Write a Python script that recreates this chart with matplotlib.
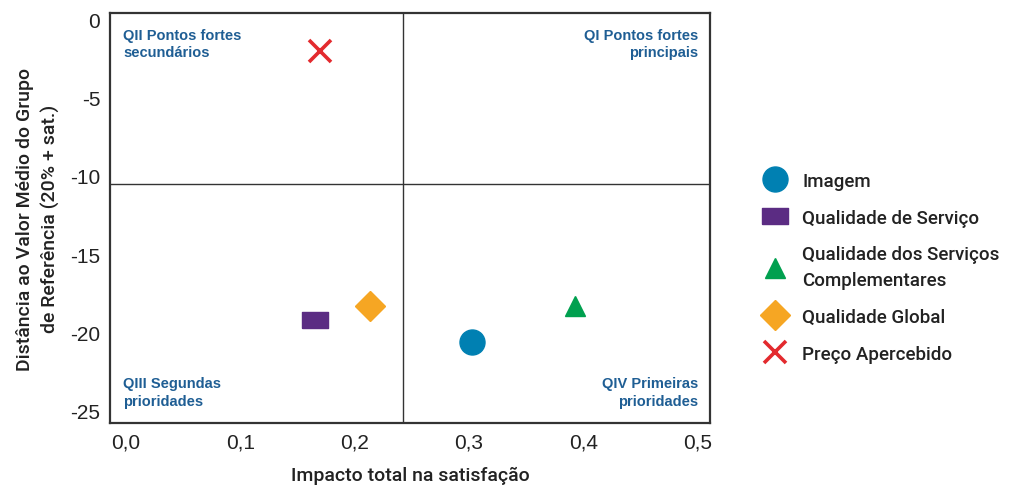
import matplotlib
matplotlib.use('Agg')
import matplotlib.pyplot as plt
from matplotlib.ticker import FuncFormatter

plt.rcParams['font.family'] = ['Liberation Sans', 'DejaVu Sans']

# 各维度：对满意度的总体影响 vs 与参考组均值的距离
series = ['Imagem', 'Qualidade de Serviço', 'Qualidade dos Serviços\nComplementares',
          'Qualidade Global', 'Preço Apercebido']
impacto = [0.303, 0.165, 0.393, 0.213, 0.170]
distancia = [-20.6, -19.2, -18.3, -18.3, -2.0]

# 象限分界线
corte_x = 0.242
corte_y = -10.5

x_ticks = [0.0, 0.1, 0.2, 0.3, 0.4, 0.5]
y_ticks = [0, -5, -10, -15, -20, -25]

quadrantes = ['QII Pontos fortes\nsecundários', 'QI Pontos fortes\nprincipais',
              'QIII Segundas\nprioridades', 'QIV Primeiras\nprioridades']

retangulo = [(-1, -0.58), (1, -0.58), (1, 0.58), (-1, 0.58), (-1, -0.58)]
estilos = [
    dict(marker='o', color='#0080B2', markersize=18),
    dict(marker=retangulo, color='#5B2C83', markersize=19),
    dict(marker='^', color='#00A04F', markersize=15),
    dict(marker='D', color='#F6A623', markersize=15),
    dict(marker='x', color='#E32A2E', markersize=16, markeredgewidth=2.6),
]

fig = plt.figure(figsize=(10.19, 4.89), dpi=100)
ax = fig.add_axes([0.108, 0.133, 0.589, 0.838])

for nome, xv, yv, st in zip(series, impacto, distancia, estilos):
    ax.plot([xv], [yv], linestyle='none', label=nome, **st)

ax.axvline(corte_x, color='#333333', lw=1)
ax.axhline(corte_y, color='#333333', lw=1)

ax.set_xlim(-0.014, 0.511)
ax.set_ylim(-25.8, 0.4)
ax.set_xticks(x_ticks)
ax.set_yticks(y_ticks)
ax.xaxis.set_major_formatter(FuncFormatter(lambda v, p: f'{v:.1f}'.replace('.', ',')))
ax.yaxis.set_major_formatter(FuncFormatter(lambda v, p: f'{v:.0f}'))
ax.tick_params(length=0, labelsize=15, colors='#222222', pad=7)
for s in ax.spines.values():
    s.set_color('#333333')
    s.set_linewidth(1.6)

cor_q = '#1F5E94'
kw = dict(transform=ax.transAxes, fontsize=10.5, fontweight='bold', color=cor_q,
          linespacing=1.35)
ax.text(0.022, 0.965, quadrantes[0], ha='left', va='top', **kw)
ax.text(0.98, 0.965, quadrantes[1], ha='right', va='top', **kw)
ax.text(0.022, 0.115, quadrantes[2], ha='left', va='top', **kw)
ax.text(0.98, 0.115, quadrantes[3], ha='right', va='top', **kw)

rot_kw = dict(fontsize=14, fontweight='medium', color='#222222',
              family=['Roboto', 'DejaVu Sans'])
ax.set_xlabel('Impacto total na satisfação', labelpad=10, **rot_kw)
ax.set_ylabel('Distância ao Valor Médio do Grupo\nde Referência (20% + sat.)',
              labelpad=7, linespacing=1.5, **rot_kw)

leg = ax.legend(loc='center left', bbox_to_anchor=(1.072, 0.38), frameon=False,
                prop=dict(size=13.5, weight='medium', family=['Roboto', 'DejaVu Sans']),
                labelspacing=1.0, handletextpad=0.7, handlelength=1.5,
                borderaxespad=0)
for t in leg.get_texts():
    t.set_color('#222222')
    t.set_linespacing(1.55)

fig.savefig('out.png', dpi=100)
